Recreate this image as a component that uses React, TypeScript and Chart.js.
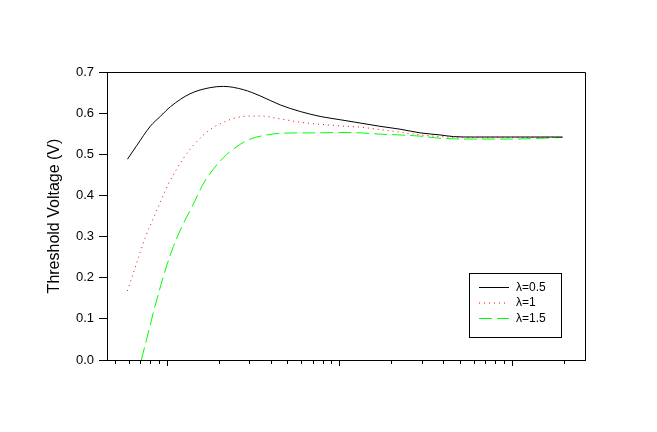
import React, { useEffect, useRef } from "react";
import { Chart, registerables } from "chart.js";

Chart.register(...registerables);

const seriesLabels = ["λ=0.5", "λ=1", "λ=1.5"];

const xLambda05 = [0.59, 0.67, 0.8, 0.915, 1.05, 1.36, 1.78, 2.13, 2.78, 3.47, 4.54, 5.93, 7.74, 10.1, 13.2, 17.2, 22.5, 29.5, 38.4, 46, 60, 100, 150, 197];
const yLambda05 = [0.488, 0.522, 0.568, 0.592, 0.616, 0.647, 0.662, 0.665, 0.657, 0.642, 0.62, 0.604, 0.592, 0.584, 0.576, 0.568, 0.561, 0.552, 0.547, 0.543, 0.542, 0.542, 0.542, 0.542];

const xLambda1 = [0.59, 0.64, 0.7, 0.75, 0.836, 0.935, 1.02, 1.25, 1.46, 1.78, 2.13, 2.78, 3.47, 4.54, 5.93, 7.74, 10.1, 13.2, 17.2, 22.5, 29.5, 38.4, 50, 100, 197];
const yLambda1 = [0.168, 0.213, 0.262, 0.299, 0.345, 0.393, 0.428, 0.491, 0.527, 0.56, 0.578, 0.592, 0.593, 0.586, 0.578, 0.573, 0.569, 0.566, 0.56, 0.554, 0.547, 0.543, 0.541, 0.541, 0.541];

const xLambda15 = [0.71, 0.766, 0.8, 0.836, 0.875, 0.923, 1.0, 1.09, 1.22, 1.4, 1.65, 2.13, 2.55, 3.04, 3.8, 4.54, 5.93, 7.74, 10, 13.2, 17.2, 22.5, 29.5, 38.4, 60, 100, 150, 197];
const yLambda15 = [0, 0.054, 0.085, 0.118, 0.148, 0.183, 0.231, 0.276, 0.324, 0.373, 0.433, 0.492, 0.519, 0.537, 0.547, 0.551, 0.552, 0.552, 0.553, 0.552, 0.549, 0.547, 0.544, 0.539, 0.537, 0.537, 0.539, 0.541];

const xMajorTicks = [1, 10, 100];
const xMinorTicks = [0.5, 0.6, 0.7, 0.8, 0.9, 2, 3, 4, 5, 6, 7, 8, 9, 20, 30, 40, 50, 60, 70, 80, 90, 200];

const toPoints = (xs: number[], ys: number[]) => xs.map((x, i) => ({ x, y: ys[i] }));

const framePlugin = {
  id: "frameAndLegend",
  afterDraw(chart: any) {
    const { ctx, chartArea } = chart;
    const xs = chart.scales.x;
    ctx.save();
    ctx.strokeStyle = "#000";
    ctx.lineWidth = 1;
    // top and right border
    ctx.beginPath();
    ctx.moveTo(Math.round(chartArea.left) - 0.5, Math.round(chartArea.top) + 0.5);
    ctx.lineTo(Math.round(chartArea.right) + 0.5, Math.round(chartArea.top) + 0.5);
    ctx.lineTo(Math.round(chartArea.right) + 0.5, Math.round(chartArea.bottom) + 0.5);
    ctx.stroke();
    // x tick marks
    const b = Math.round(chartArea.bottom);
    const drawTick = (v: number, len: number) => {
      const px = Math.round(xs.getPixelForValue(v)) + 0.5;
      ctx.beginPath();
      ctx.moveTo(px, b);
      ctx.lineTo(px, b + len);
      ctx.stroke();
    };
    xMajorTicks.forEach((v) => drawTick(v, 6));
    xMinorTicks.forEach((v) => drawTick(v, 4));

    // legend
    ctx.strokeRect(469.5, 273.5, 92, 64);
    const rows = [287, 302.5, 318];
    chart.data.datasets.forEach((ds: any, i: number) => {
      ctx.save();
      ctx.strokeStyle = ds.borderColor;
      ctx.setLineDash(ds.borderDash || []);
      ctx.beginPath();
      ctx.moveTo(479, rows[i] + 0.5);
      ctx.lineTo(509, rows[i] + 0.5);
      ctx.stroke();
      ctx.restore();
      ctx.fillStyle = "#000";
      ctx.font = "12px 'Liberation Sans', Arial, sans-serif";
      ctx.textBaseline = "middle";
      ctx.textAlign = "left";
      ctx.fillText(ds.label, 516, rows[i] + 0.5);
    });
    ctx.restore();
  },
};

export default function App() {
  const canvasRef = useRef<HTMLCanvasElement | null>(null);

  useEffect(() => {
    if (!canvasRef.current) return;
    const chart = new Chart(canvasRef.current, {
      type: "line",
      data: {
        datasets: [
          {
            label: seriesLabels[0],
            data: toPoints(xLambda05, yLambda05),
            borderColor: "#000000",
            borderWidth: 1,
            pointRadius: 0,
            cubicInterpolationMode: "monotone",
          },
          {
            label: seriesLabels[1],
            data: toPoints(xLambda1, yLambda1),
            borderColor: "#ff0000",
            borderWidth: 1,
            borderDash: [1, 4],
            pointRadius: 0,
            cubicInterpolationMode: "monotone",
          },
          {
            label: seriesLabels[2],
            data: toPoints(xLambda15, yLambda15),
            borderColor: "#00ff00",
            borderWidth: 1,
            borderDash: [13, 5],
            pointRadius: 0,
            cubicInterpolationMode: "monotone",
          },
        ],
      },
      options: {
        animation: false,
        responsive: false,
        layout: { padding: { left: 0, top: 72, right: 72, bottom: 0 } },
        plugins: { legend: { display: false }, tooltip: { enabled: false } },
        scales: {
          x: {
            type: "logarithmic",
            min: 0.449,
            max: 266,
            grid: { display: false },
            border: { display: true, color: "#000", width: 1 },
            ticks: { display: false },
            afterFit: (s: any) => {
              s.height = 72;
            },
          },
          y: {
            min: 0,
            max: 0.7,
            ticks: {
              stepSize: 0.1,
              color: "#000",
              padding: 5,
              font: { family: "'Liberation Sans', Arial, sans-serif", size: 13 },
              callback: (v: any) => Number(v).toFixed(1),
            },
            grid: { drawOnChartArea: false, tickLength: 8, color: "#000" },
            border: { display: true, color: "#000", width: 1 },
            title: {
              display: true,
              text: "Threshold Voltage (V)",
              color: "#000",
              font: { family: "'Liberation Sans', Arial, sans-serif", size: 16, weight: "normal" },
              padding: { top: 45, bottom: 0 },
            },
            afterFit: (s: any) => {
              s.width = 107;
            },
          },
        },
      },
      plugins: [framePlugin],
    } as any);
    return () => chart.destroy();
  }, []);

  return (
    <div style={{ position: "absolute", left: 0, top: 0, width: 657, height: 432, background: "#fff" }}>
      <canvas ref={canvasRef} width={657} height={432} style={{ display: "block" }} />
    </div>
  );
}
